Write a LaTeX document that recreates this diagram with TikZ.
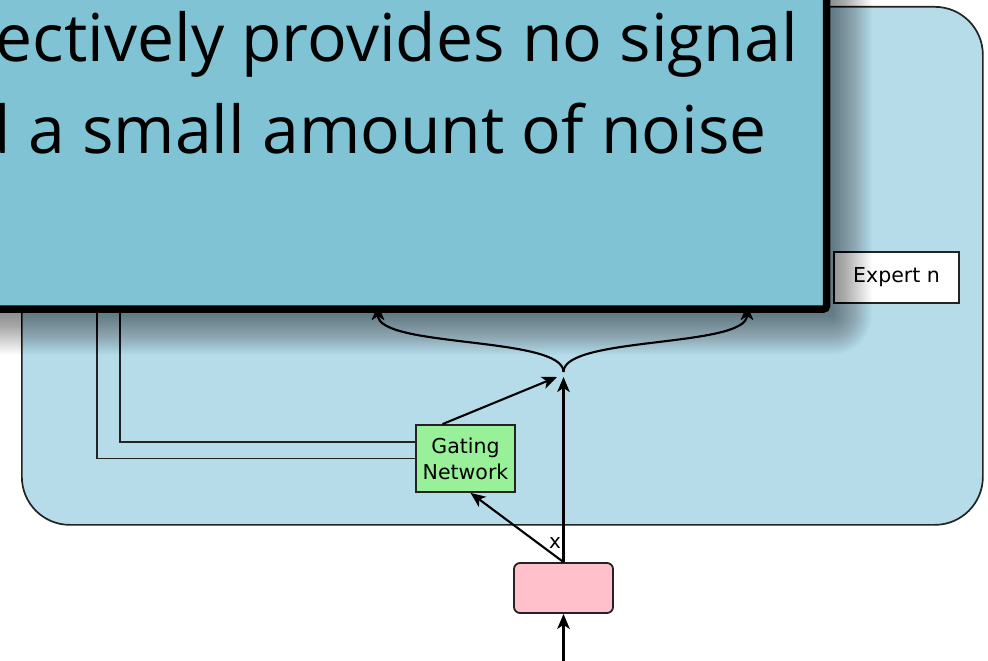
\documentclass[tikz,border=0pt]{standalone}
\usepackage{fontspec}
\newfontfamily\callfont{Open Sans}
\newfontfamily\djv{DejaVu Sans}
\usetikzlibrary{arrows.meta,calc}
\definecolor{contfill}{RGB}{183,220,233}
\definecolor{callfill}{RGB}{127,195,212}
\definecolor{gatefill}{RGB}{152,240,152}
\definecolor{pinkfill}{RGB}{255,192,203}
\definecolor{edgegray}{RGB}{35,35,35}
\tikzset{
 boxst/.style={draw=edgegray, line width=1.8pt, inner sep=0pt, font=\djv\fontsize{20.5}{26}\selectfont, align=center},
 arr/.style={draw=black, line width=2.1pt, -{Stealth[length=15pt,width=12.5pt,inset=4pt]}},
 wire/.style={draw=edgegray, line width=1.9pt},
 calltext/.style={font=\callfont\fontsize{66}{91}\selectfont, anchor=base east, inner sep=0pt},
 shadowlayer/.style={fill=black, fill opacity=0.0135},
}
\begin{document}
\begin{tikzpicture}[x=1pt,y=-1pt]
\useasboundingbox (0,0) rectangle (988,661);
\fill[white] (0,0) rectangle (988,661);
% container
\node[draw=edgegray, line width=1.7pt, fill=contfill, rounded corners=48pt,
      minimum width=961pt, minimum height=518pt, anchor=north west, inner sep=0pt] (cont) at (21,6) {};
% boxes
\node[boxst, fill=white, minimum width=125pt, minimum height=51pt] (expn) at (896.5,277.5) {Expert n};
\node[boxst, fill=gatefill, minimum width=99pt, minimum height=67pt] (gate) at (465.5,458.5) {Gating\\Network};
\node[boxst, fill=pinkfill, rounded corners=6pt, minimum width=99pt, minimum height=50pt] (inp) at (563.5,588) {};
% coordinates
\coordinate (src) at (563.5,661);
\coordinate (Jv) at (563.5,377);
\coordinate (Jg) at (557,377);
\coordinate (Jc) at (563.5,372);
\coordinate (e1) at (378,305);
\coordinate (e2) at (747,305);
\coordinate (g1) at (97,290);
\coordinate (g2) at (120,290);
% connectors
\draw[arr] (src) -- (inp.south);
\draw[arr] (inp.north) -- (Jv);
\draw[arr] (inp.north) -- ([xshift=5pt]gate.south);
\draw[arr] ([xshift=-23pt]gate.north) -- (Jg);
\draw[arr] (Jc) .. controls (563.5,336) and (378,348) .. (e1);
\draw[arr] (Jc) .. controls (563.5,336) and (747,348) .. (e2);
\draw[wire] (gate.west) -| (g1);
\draw[wire] ([yshift=16.5pt]gate.west) -| (g2);
\node[font=\djv\fontsize{20}{20}\selectfont, inner sep=0pt] (xl) at (555,543) {x};
% callout shadow (soft, stacked layers)
\coordinate (cSW) at (-100,312.75);
\coordinate (cNE) at (830.25,-100);
\foreach \i in {1,...,40}{
  \fill[shadowlayer, rounded corners=\i pt] ($(cSW)+(-\i+3,\i+2)$) rectangle ($(cNE)+(\i+2,-\i)$);
}
% callout
\node[draw=black, line width=7.5pt, fill=callfill, rounded corners=3pt,
      minimum width=922.75pt, minimum height=405pt, anchor=south east, inner sep=0pt, outer sep=0pt] (call) at (826.5,309) {};
\node[calltext] (t1) at (798,62) {ectively provides no signal};
\node[calltext] (t2) at (767,153) {d a small amount of noise};
\end{tikzpicture}
\end{document}
